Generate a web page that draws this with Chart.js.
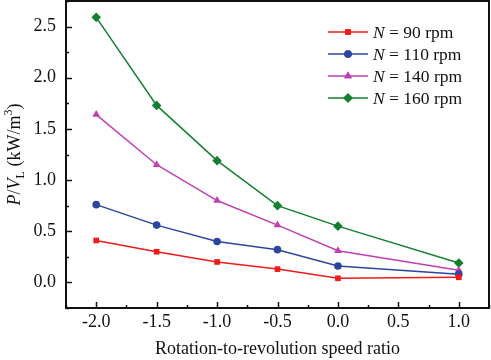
<!DOCTYPE html>
<html>
<head>
<meta charset="utf-8">
<script src="https://cdn.jsdelivr.net/npm/chart.js@4"></script>
<style>
    html, body { margin: 0; padding: 0; background: #fff; }
    #wrap { width: 491px; height: 360px; }
</style>
</head>
<body>
<div id="wrap"><canvas id="chart" width="491" height="360"></canvas></div>
<script>
// Rotation-to-revolution speed ratio (x) and power per volume (y)
const speedRatios = [-2.0, -1.5, -1.0, -0.5, 0.0, 1.0];
const power90 = [0.41, 0.30, 0.20, 0.13, 0.04, 0.05];
const power110 = [0.76, 0.56, 0.40, 0.32, 0.16, 0.08];
const power140 = [1.64, 1.15, 0.80, 0.56, 0.31, 0.12];
const power160 = [2.59, 1.73, 1.19, 0.75, 0.55, 0.19];
const seriesLabels = ['90', '110', '140', '160'];

const FONT = '"Liberation Serif", "Times New Roman", serif';

const seriesStyle = [
    { color: '#f01a1a', point: 'rect', radius: 4 },
    { color: '#2b45a0', point: 'circle', radius: 3.8 },
    { color: '#c040b0', point: 'triangle', radius: 4.5 },
    { color: '#13802f', point: 'rectRot', radius: 4.8 }
];

function toPoints(values) {
    return speedRatios.map((x, i) => ({ x: x, y: values[i] }));
}

const datasets = [power90, power110, power140, power160].map((values, i) => ({
    label: 'N = ' + seriesLabels[i] + ' rpm',
    data: toPoints(values),
    borderColor: seriesStyle[i].color,
    backgroundColor: seriesStyle[i].color,
    pointStyle: seriesStyle[i].point,
    pointRadius: seriesStyle[i].radius,
    pointBorderWidth: 0,
    borderWidth: 1.5,
    showLine: true,
    tension: 0
}));

const isMajor = v => Math.abs(v * 2 - Math.round(v * 2)) < 1e-6;

// inward ticks + frame
const framePlugin = {
    id: 'frame',
    afterDraw(chart) {
        const ctx = chart.ctx;
        const a = chart.chartArea;
        const xs = chart.scales.x;
        const ys = chart.scales.y;
        ctx.save();
        ctx.strokeStyle = '#111';
        ctx.lineWidth = 1.5;
        xs.ticks.forEach(t => {
            const px = Math.round(xs.getPixelForValue(t.value)) + 0.5;
            const len = isMajor(t.value) ? 6 : 3;
            ctx.beginPath();
            ctx.moveTo(px, a.bottom);
            ctx.lineTo(px, a.bottom - len);
            ctx.stroke();
        });
        ys.ticks.forEach(t => {
            const py = Math.round(ys.getPixelForValue(t.value)) + 0.5;
            const len = isMajor(t.value) ? 6 : 3;
            ctx.beginPath();
            ctx.moveTo(a.left, py);
            ctx.lineTo(a.left + len, py);
            ctx.stroke();
        });
        ctx.lineWidth = 2;
        ctx.strokeRect(a.left, a.top, a.right - a.left, a.bottom - a.top);
        ctx.restore();
    }
};

// y axis title with italic P, V, subscript L and superscript 3
const yTitlePlugin = {
    id: 'yTitle',
    afterDraw(chart) {
        const ctx = chart.ctx;
        const a = chart.chartArea;
        const parts = [
            { t: 'P', f: 'italic 18px ' + FONT, dy: 0 },
            { t: '/', f: '18px ' + FONT, dy: 0 },
            { t: 'V', f: 'italic 18px ' + FONT, dy: 0 },
            { t: 'L', f: '12px ' + FONT, dy: 4 },
            { t: ' (kW/m', f: '18px ' + FONT, dy: 0 },
            { t: '3', f: '12px ' + FONT, dy: -8 },
            { t: ')', f: '18px ' + FONT, dy: 0 }
        ];
        ctx.save();
        let total = 0;
        parts.forEach(p => { ctx.font = p.f; p.w = ctx.measureText(p.t).width; total += p.w; });
        ctx.translate(20, (a.top + a.bottom) / 2);
        ctx.rotate(-Math.PI / 2);
        ctx.fillStyle = '#111';
        ctx.textBaseline = 'alphabetic';
        let x = -total / 2;
        parts.forEach(p => {
            ctx.font = p.f;
            ctx.fillText(p.t, x, p.dy);
            x += p.w;
        });
        ctx.restore();
    }
};

// legend with italic N
const legendPlugin = {
    id: 'customLegend',
    afterDraw(chart) {
        const ctx = chart.ctx;
        ctx.save();
        chart.data.datasets.forEach((ds, i) => {
            const y = 32 + i * 22;
            ctx.strokeStyle = ds.borderColor;
            ctx.fillStyle = ds.borderColor;
            ctx.lineWidth = 1.5;
            ctx.beginPath();
            ctx.moveTo(328, y);
            ctx.lineTo(368, y);
            ctx.stroke();
            Chart.helpers.drawPoint(ctx, {
                pointStyle: ds.pointStyle,
                radius: ds.pointRadius,
                borderWidth: 0,
                rotation: 0
            }, 348, y);
            ctx.fill();
            ctx.fillStyle = '#111';
            ctx.textBaseline = 'middle';
            ctx.font = 'italic 17.5px ' + FONT;
            ctx.fillText('N', 373, y + 1);
            const w = ctx.measureText('N').width;
            ctx.font = '17.5px ' + FONT;
            ctx.fillText(' = ' + seriesLabels[i] + ' rpm', 373 + w, y + 1);
        });
        ctx.restore();
    }
};

new Chart(document.getElementById('chart'), {
    type: 'scatter',
    data: { datasets: datasets },
    options: {
        responsive: false,
        animation: false,
        layout: { autoPadding: false, padding: { top: 1, right: 2, left: 0, bottom: 0 } },
        plugins: { legend: { display: false }, tooltip: { enabled: false } },
        scales: {
            x: {
                type: 'linear',
                min: -2.25,
                max: 1.25,
                afterFit: s => { s.height = 52; s.paddingLeft = 0; s.paddingRight = 0; },
                border: { display: false },
                grid: { display: false, drawTicks: false },
                ticks: {
                    stepSize: 0.25,
                    autoSkip: false,
                    maxRotation: 0,
                    padding: 3,
                    color: '#111',
                    font: { family: FONT, size: 18 },
                    callback: v => isMajor(v) ? v.toFixed(1) : ''
                },
                title: {
                    display: true,
                    text: 'Rotation-to-revolution speed ratio',
                    color: '#111',
                    font: { family: FONT, size: 18 },
                    padding: { top: 1, bottom: 0 }
                }
            },
            y: {
                min: -0.25,
                max: 2.75,
                afterFit: s => { s.width = 66; s.paddingTop = 0; s.paddingBottom = 0; },
                border: { display: false },
                grid: { display: false, drawTicks: false },
                ticks: {
                    stepSize: 0.25,
                    autoSkip: false,
                    padding: 10,
                    color: '#111',
                    font: { family: FONT, size: 18 },
                    callback: v => isMajor(v) ? v.toFixed(1) : ''
                }
            }
        }
    },
    plugins: [framePlugin, yTitlePlugin, legendPlugin]
});
</script>
</body>
</html>
